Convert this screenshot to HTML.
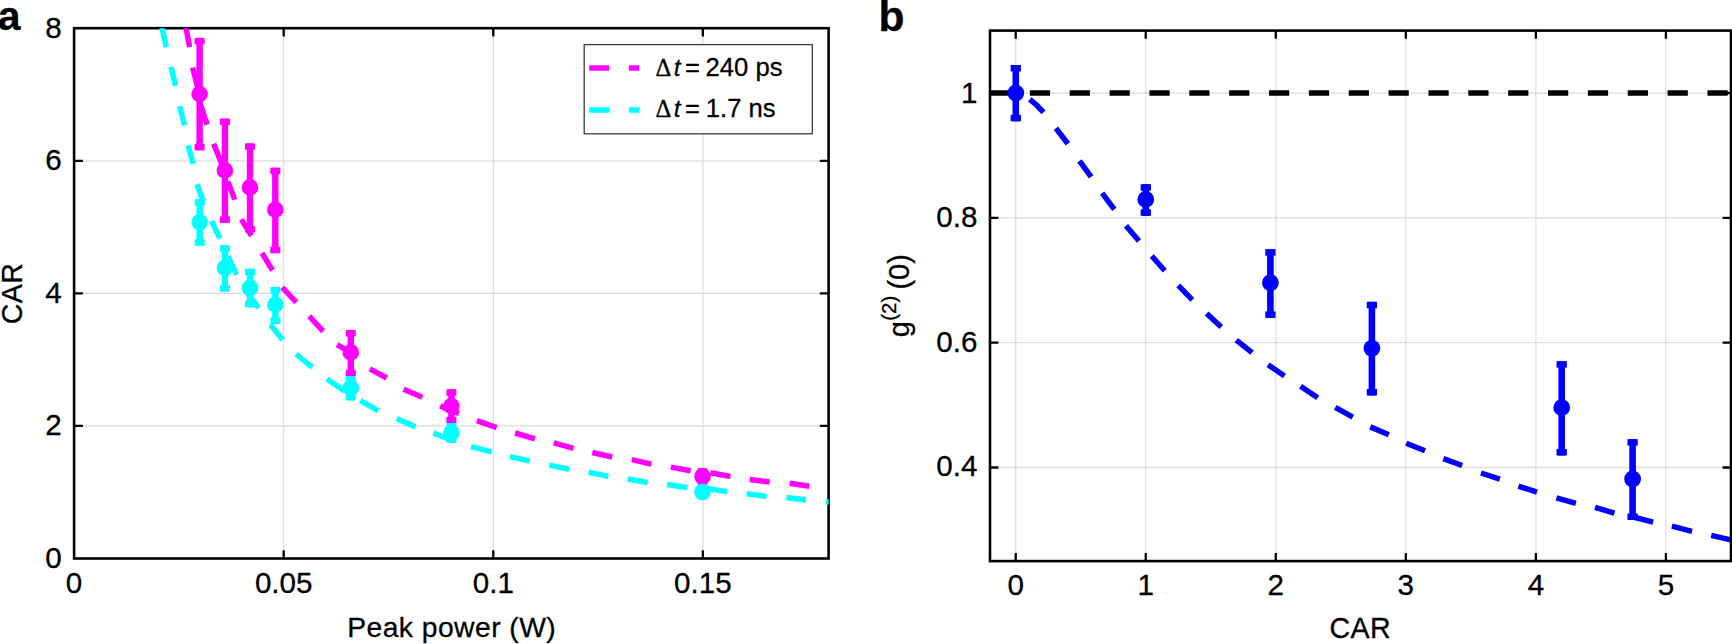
<!DOCTYPE html>
<html lang="en"><head><meta charset="utf-8"><title>CAR vs peak power; g(2)(0) vs CAR</title>
<style>html,body{margin:0;padding:0;background:#fff;overflow:hidden}svg{display:block}text{stroke:#000;stroke-width:0.3px;stroke-linejoin:round}</style></head>
<body>
<svg width="1732" height="644" viewBox="0 0 1732 644" font-family="'Liberation Sans', Arial, Helvetica, sans-serif" fill="#000">
<rect width="1732" height="644" fill="#fff"/>
<g id="panel-a">
<line x1="283.68" y1="28.2" x2="283.68" y2="558.5" stroke="#dcdcdc" stroke-width="1.2"/>
<line x1="493.27" y1="28.2" x2="493.27" y2="558.5" stroke="#dcdcdc" stroke-width="1.2"/>
<line x1="702.85" y1="28.2" x2="702.85" y2="558.5" stroke="#dcdcdc" stroke-width="1.2"/>
<line x1="74.1" y1="425.93" x2="828.6" y2="425.93" stroke="#dcdcdc" stroke-width="1.2"/>
<line x1="74.1" y1="293.35" x2="828.6" y2="293.35" stroke="#dcdcdc" stroke-width="1.2"/>
<line x1="74.1" y1="160.78" x2="828.6" y2="160.78" stroke="#dcdcdc" stroke-width="1.2"/>
<rect x="74.1" y="28.2" width="754.50" height="530.30" fill="none" stroke="#000" stroke-width="2.6"/>
<clipPath id="clipA"><rect x="74.1" y="28.2" width="754.50" height="530.30"/></clipPath>
<g clip-path="url(#clipA)">
<path d="M161.6 26.2L166.3 47.1 M171.0 66.9L175.6 86.0 M179.6 106.1L184.5 125.2 M188.0 145.2L193.3 163.8 M197.0 184.2L203.3 201.7 M211.4 221.0L220.0 238.5 M227.8 256.0L236.6 274.6 M246.0 291.0L258.6 307.8 M270.4 324.5L282.8 340.0 M296.1 354.0L312.3 367.4 M326.9 378.9L345.0 391.3 M360.4 400.6L378.4 410.9 M396.8 418.6L415.4 427.0 M433.5 433.0L451.0 440.0 M471.1 446.7L491.6 451.8 M510.0 456.6L529.8 461.0 M549.3 465.1L569.1 469.2 M588.6 472.3L608.4 476.4 M627.8 479.0L647.7 482.5 M667.1 484.5L687.0 487.5 M707.1 488.4L727.1 491.8 M746.6 493.7L766.5 496.4 M786.3 497.4L806.2 500.1 M825.8 501.6L831.0 502.3" stroke="#00ffff" stroke-width="5.5" fill="none"/>
<path d="M185.7 26.2L189.6 47.1 M192.6 67.6L199.0 92.5 M199.6 101.9L207.1 124.7 M213.6 143.8L224.3 170.3 M227.8 181.4L234.7 199.6 M241.3 219.4L251.5 235.7 M262.0 253.0L272.5 270.2 M282.3 287.3L296.3 302.3 M309.2 316.1L323.2 331.4 M337.1 344.7L350.5 352.5 M369.8 368.9L386.8 378.0 M403.6 389.2L422.4 397.2 M440.2 405.9L451.4 410.6 M451.4 410.6L459.0 413.4 M476.9 420.7L496.7 427.6 M515.1 433.0L535.0 438.8 M553.7 442.9L573.6 448.4 M592.3 452.5L612.2 457.0 M631.8 459.6L651.4 464.1 M670.8 467.1L690.7 470.8 M710.4 472.8L730.4 476.5 M749.8 479.5L769.7 482.0 M789.6 483.2L809.4 486.2" stroke="#ff00ff" stroke-width="5.5" fill="none"/>
</g>
<g fill="#ff00ff"><rect x="196.40" y="37.90" width="6.4" height="112.40"/><rect x="194.60" y="37.90" width="10.0" height="6.5"/><rect x="194.60" y="143.80" width="10.0" height="6.5"/><circle cx="199.60" cy="94.00" r="8.3"/></g>
<g fill="#ff00ff"><rect x="221.70" y="118.60" width="6.4" height="104.30"/><rect x="219.90" y="118.60" width="10.0" height="6.5"/><rect x="219.90" y="216.40" width="10.0" height="6.5"/><circle cx="224.90" cy="170.40" r="8.3"/></g>
<g fill="#ff00ff"><rect x="246.80" y="143.40" width="6.4" height="89.10"/><rect x="245.00" y="143.40" width="10.0" height="6.5"/><rect x="245.00" y="226.00" width="10.0" height="6.5"/><circle cx="250.00" cy="187.40" r="8.3"/></g>
<g fill="#ff00ff"><rect x="272.10" y="167.70" width="6.4" height="85.50"/><rect x="270.30" y="167.70" width="10.0" height="6.5"/><rect x="270.30" y="246.70" width="10.0" height="6.5"/><circle cx="275.30" cy="209.70" r="8.3"/></g>
<g fill="#ff00ff"><rect x="347.60" y="330.10" width="6.4" height="46.30"/><rect x="345.80" y="330.10" width="10.0" height="6.5"/><rect x="345.80" y="369.90" width="10.0" height="6.5"/><circle cx="350.80" cy="352.40" r="8.3"/></g>
<g fill="#ff00ff"><rect x="448.20" y="389.30" width="6.4" height="34.00"/><rect x="446.40" y="389.30" width="10.0" height="6.5"/><rect x="446.40" y="416.80" width="10.0" height="6.5"/><circle cx="451.40" cy="406.00" r="8.3"/></g>
<g fill="#ff00ff"><rect x="699.30" y="468.30" width="6.4" height="16.20"/><rect x="697.50" y="468.30" width="10.0" height="6.5"/><rect x="697.50" y="478.00" width="10.0" height="6.5"/><circle cx="702.50" cy="476.40" r="8.3"/></g>
<g fill="#00ffff"><rect x="196.50" y="199.30" width="6.4" height="46.40"/><rect x="194.70" y="199.30" width="10.0" height="6.5"/><rect x="194.70" y="239.20" width="10.0" height="6.5"/><circle cx="199.70" cy="222.10" r="8.3"/></g>
<g fill="#00ffff"><rect x="221.70" y="245.20" width="6.4" height="46.40"/><rect x="219.90" y="245.20" width="10.0" height="6.5"/><rect x="219.90" y="285.10" width="10.0" height="6.5"/><circle cx="224.90" cy="268.00" r="8.3"/></g>
<g fill="#00ffff"><rect x="246.80" y="268.80" width="6.4" height="38.50"/><rect x="245.00" y="268.80" width="10.0" height="6.5"/><rect x="245.00" y="300.80" width="10.0" height="6.5"/><circle cx="250.00" cy="287.90" r="8.3"/></g>
<g fill="#00ffff"><rect x="272.20" y="287.00" width="6.4" height="37.00"/><rect x="270.40" y="287.00" width="10.0" height="6.5"/><rect x="270.40" y="317.50" width="10.0" height="6.5"/><circle cx="275.40" cy="304.50" r="8.3"/></g>
<g fill="#00ffff"><rect x="347.60" y="376.30" width="6.4" height="24.10"/><rect x="345.80" y="376.30" width="10.0" height="6.5"/><rect x="345.80" y="393.90" width="10.0" height="6.5"/><circle cx="350.80" cy="387.80" r="8.3"/></g>
<g fill="#00ffff"><rect x="448.20" y="423.20" width="6.4" height="19.60"/><rect x="446.40" y="423.20" width="10.0" height="6.5"/><rect x="446.40" y="436.30" width="10.0" height="6.5"/><circle cx="451.40" cy="433.00" r="8.3"/></g>
<g fill="#00ffff"><rect x="699.30" y="485.00" width="6.4" height="14.00"/><rect x="697.50" y="485.00" width="10.0" height="6.5"/><rect x="697.50" y="492.50" width="10.0" height="6.5"/><circle cx="702.50" cy="492.10" r="8.3"/></g>
<path d="M283.68 558.5v-8.2M283.68 28.2v8.2" stroke="#000" stroke-width="2.3"/>
<path d="M493.27 558.5v-8.2M493.27 28.2v8.2" stroke="#000" stroke-width="2.3"/>
<path d="M702.85 558.5v-8.2M702.85 28.2v8.2" stroke="#000" stroke-width="2.3"/>
<path d="M74.1 425.93h8.8M828.6 425.93h-8.8" stroke="#000" stroke-width="2.3"/>
<path d="M74.1 293.35h8.8M828.6 293.35h-8.8" stroke="#000" stroke-width="2.3"/>
<path d="M74.1 160.78h8.8M828.6 160.78h-8.8" stroke="#000" stroke-width="2.3"/>
<text transform="translate(74.10 592.9) scale(1 1.02)" font-size="29.6" text-anchor="middle">0</text>
<text transform="translate(283.68 592.9) scale(1 1.02)" font-size="29.6" text-anchor="middle">0.05</text>
<text transform="translate(493.27 592.9) scale(1 1.02)" font-size="29.6" text-anchor="middle">0.1</text>
<text transform="translate(702.85 592.9) scale(1 1.02)" font-size="29.6" text-anchor="middle">0.15</text>
<text transform="translate(61.8 567.80) scale(1 1.02)" font-size="29.6" text-anchor="end">0</text>
<text transform="translate(61.8 435.23) scale(1 1.02)" font-size="29.6" text-anchor="end">2</text>
<text transform="translate(61.8 302.65) scale(1 1.02)" font-size="29.6" text-anchor="end">4</text>
<text transform="translate(61.8 170.08) scale(1 1.02)" font-size="29.6" text-anchor="end">6</text>
<text transform="translate(61.8 37.50) scale(1 1.02)" font-size="29.6" text-anchor="end">8</text>
<text x="347.2" y="636.9" font-size="28.3" textLength="208.6" lengthAdjust="spacing">Peak power (W)</text>
<text transform="translate(22.2 324.2) rotate(-90)" font-size="28.6" textLength="61" lengthAdjust="spacing">CAR</text>
<rect x="584.2" y="44.6" width="228.1" height="89.2" fill="#fff" stroke="#3c3c3c" stroke-width="1.3"/>
<path d="M589.2 68h50" stroke="#ff00ff" stroke-width="5.4" stroke-dasharray="20 19.7" fill="none"/>
<path d="M589.2 110h50" stroke="#00ffff" stroke-width="5.4" stroke-dasharray="20 19.7" fill="none"/>
<text y="75.8" font-size="25.6"><tspan x="655.4" font-size="24.6" font-family="'Liberation Serif', 'Times New Roman', serif">Δ</tspan><tspan x="673.8" font-size="24.4" font-style="italic">t</tspan><tspan x="685.0">=</tspan><tspan x="705.6">240 ps</tspan></text>
<text y="117.2" font-size="25.6"><tspan x="655.4" font-size="24.6" font-family="'Liberation Serif', 'Times New Roman', serif">Δ</tspan><tspan x="673.8" font-size="24.4" font-style="italic">t</tspan><tspan x="685.0">=</tspan><tspan x="705.8">1.7 ns</tspan></text>
<text x="-2.2" y="29.6" font-size="41" font-weight="bold">a</text>
</g>
<g id="panel-b">
<line x1="1015.70" y1="30.6" x2="1015.70" y2="561.1" stroke="#000" stroke-opacity="0.11" stroke-width="1.4"/>
<line x1="1145.74" y1="30.6" x2="1145.74" y2="561.1" stroke="#000" stroke-opacity="0.11" stroke-width="1.4"/>
<line x1="1275.78" y1="30.6" x2="1275.78" y2="561.1" stroke="#000" stroke-opacity="0.11" stroke-width="1.4"/>
<line x1="1405.82" y1="30.6" x2="1405.82" y2="561.1" stroke="#000" stroke-opacity="0.11" stroke-width="1.4"/>
<line x1="1535.86" y1="30.6" x2="1535.86" y2="561.1" stroke="#000" stroke-opacity="0.11" stroke-width="1.4"/>
<line x1="1665.90" y1="30.6" x2="1665.90" y2="561.1" stroke="#000" stroke-opacity="0.11" stroke-width="1.4"/>
<line x1="990.0" y1="467.48" x2="1731.0" y2="467.48" stroke="#000" stroke-opacity="0.12" stroke-width="1.4"/>
<line x1="990.0" y1="342.66" x2="1731.0" y2="342.66" stroke="#000" stroke-opacity="0.12" stroke-width="1.4"/>
<line x1="990.0" y1="217.84" x2="1731.0" y2="217.84" stroke="#000" stroke-opacity="0.12" stroke-width="1.4"/>
<line x1="990.0" y1="93.01" x2="1731.0" y2="93.01" stroke="#000" stroke-opacity="0.12" stroke-width="1.4"/>
<path d="M990.0 93H1732" stroke="#000" stroke-width="5.7" stroke-dasharray="20.2 19.66" fill="none"/>
<path d="M1029.8 99.4L1036.6 105L1043.5 112.3 M1055.9 128.3L1067.9 143.7 M1079.5 160.8L1091.1 176.8 M1102.1 193.2L1114.4 209.3 M1126.0 225.7L1139.0 241.1 M1151.8 256.0L1164.8 270.8 M1178.3 285.4L1192.3 299.8 M1206.6 313.5L1221.3 327.1 M1236.3 340.1L1252.1 352.7 M1268.1 364.7L1284.5 376.0 M1300.6 386.2L1317.7 397.8 M1335.3 407.4L1352.8 417.1 M1370.3 426.9L1388.8 434.8 M1406.2 443.3L1425.0 450.8 M1443.4 458.7L1462.2 465.5 M1481.0 473.0L1499.8 479.2 M1518.4 486.1L1537.0 492.1 M1556.4 497.8L1575.9 503.3 M1595.0 507.4L1614.5 513.2 M1633.3 517.0L1653.1 522.1 M1671.9 526.2L1692.0 531.3 M1711.2 535.4L1730.7 539.9" stroke="#0000ff" stroke-width="5.5" fill="none"/>
<g fill="#0000ff"><rect x="1012.50" y="65.00" width="6.6" height="56.30"/><rect x="1010.65" y="65.00" width="10.3" height="6.5"/><rect x="1010.65" y="114.80" width="10.3" height="6.5"/><circle cx="1015.80" cy="93.00" r="8.4"/></g>
<g fill="#0000ff"><rect x="1142.50" y="184.20" width="6.6" height="31.60"/><rect x="1140.65" y="184.20" width="10.3" height="6.5"/><rect x="1140.65" y="209.30" width="10.3" height="6.5"/><circle cx="1145.80" cy="199.40" r="8.4"/></g>
<g fill="#0000ff"><rect x="1267.10" y="249.20" width="6.6" height="68.70"/><rect x="1265.25" y="249.20" width="10.3" height="6.5"/><rect x="1265.25" y="311.40" width="10.3" height="6.5"/><circle cx="1270.40" cy="282.70" r="8.4"/></g>
<g fill="#0000ff"><rect x="1368.60" y="301.80" width="6.6" height="93.70"/><rect x="1366.75" y="301.80" width="10.3" height="6.5"/><rect x="1366.75" y="389.00" width="10.3" height="6.5"/><circle cx="1371.90" cy="348.30" r="8.4"/></g>
<g fill="#0000ff"><rect x="1558.40" y="361.20" width="6.6" height="94.30"/><rect x="1556.55" y="361.20" width="10.3" height="6.5"/><rect x="1556.55" y="449.00" width="10.3" height="6.5"/><circle cx="1561.70" cy="407.60" r="8.4"/></g>
<g fill="#0000ff"><rect x="1629.30" y="439.10" width="6.6" height="80.90"/><rect x="1627.45" y="439.10" width="10.3" height="6.5"/><rect x="1627.45" y="513.50" width="10.3" height="6.5"/><circle cx="1632.60" cy="479.00" r="8.4"/></g>
<rect x="990.0" y="30.6" width="741.00" height="530.50" fill="none" stroke="#000" stroke-width="2.6"/>
<path d="M1015.70 561.1v-8.2M1015.70 30.6v8.2" stroke="#000" stroke-width="2.3"/>
<path d="M1145.74 561.1v-8.2M1145.74 30.6v8.2" stroke="#000" stroke-width="2.3"/>
<path d="M1275.78 561.1v-8.2M1275.78 30.6v8.2" stroke="#000" stroke-width="2.3"/>
<path d="M1405.82 561.1v-8.2M1405.82 30.6v8.2" stroke="#000" stroke-width="2.3"/>
<path d="M1535.86 561.1v-8.2M1535.86 30.6v8.2" stroke="#000" stroke-width="2.3"/>
<path d="M1665.90 561.1v-8.2M1665.90 30.6v8.2" stroke="#000" stroke-width="2.3"/>
<path d="M990.0 467.48h8.4M1731.0 467.48h-8.4" stroke="#000" stroke-width="2.3"/>
<path d="M990.0 342.66h8.4M1731.0 342.66h-8.4" stroke="#000" stroke-width="2.3"/>
<path d="M990.0 217.84h8.4M1731.0 217.84h-8.4" stroke="#000" stroke-width="2.3"/>
<path d="M990.0 93.01h8.4M1731.0 93.01h-8.4" stroke="#000" stroke-width="2.3"/>
<text transform="translate(1015.70 594.8) scale(1 1.02)" font-size="29.6" text-anchor="middle">0</text>
<text transform="translate(1145.74 594.8) scale(1 1.02)" font-size="29.6" text-anchor="middle">1</text>
<text transform="translate(1275.78 594.8) scale(1 1.02)" font-size="29.6" text-anchor="middle">2</text>
<text transform="translate(1405.82 594.8) scale(1 1.02)" font-size="29.6" text-anchor="middle">3</text>
<text transform="translate(1535.86 594.8) scale(1 1.02)" font-size="29.6" text-anchor="middle">4</text>
<text transform="translate(1665.90 594.8) scale(1 1.02)" font-size="29.6" text-anchor="middle">5</text>
<text transform="translate(977.4 476.38) scale(1 1.02)" font-size="29.6" text-anchor="end">0.4</text>
<text transform="translate(977.4 351.56) scale(1 1.02)" font-size="29.6" text-anchor="end">0.6</text>
<text transform="translate(977.4 226.74) scale(1 1.02)" font-size="29.6" text-anchor="end">0.8</text>
<text transform="translate(977.4 103.31) scale(1 1.02)" font-size="29.6" text-anchor="end">1</text>
<text x="1329.6" y="638.2" font-size="28.6" textLength="61" lengthAdjust="spacing">CAR</text>
<text transform="translate(909 337.3) rotate(-90)" font-size="29">g<tspan font-size="20.5" x="16.6" y="-13.4">(2)</tspan><tspan x="47.7" y="0">(0)</tspan></text>
<text x="878.6" y="31" font-size="42.5" font-weight="bold">b</text>
</g>
</svg>
</body></html>
